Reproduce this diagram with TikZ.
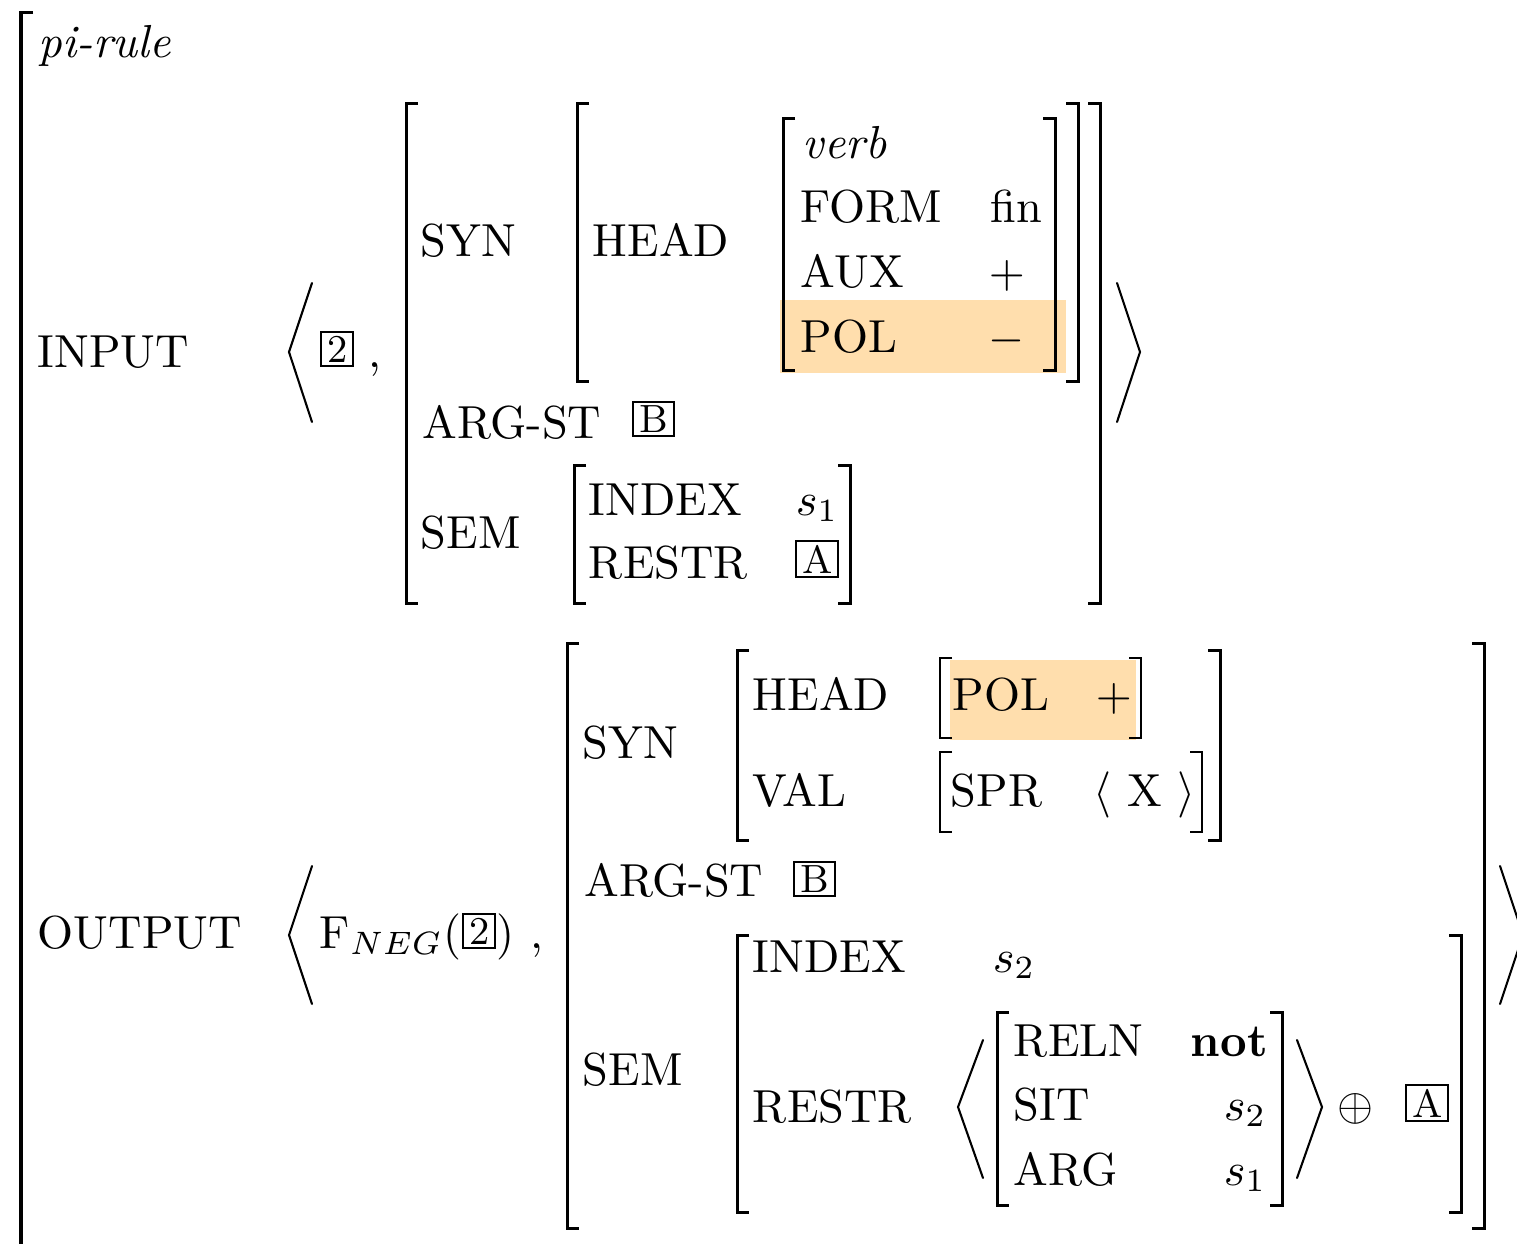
\documentclass[tikz,border=0pt]{standalone}
\usepackage{tikz}
\definecolor{hl}{RGB}{255,222,173}
\newcommand\mylb[4][brk]{\draw[#1] ({#2+12},#3) -- (#2,#3) -- (#2,#4) -- ({#2+12},#4);}
\newcommand\myrb[4][brk]{\draw[#1] ({#2-12},#3) -- (#2,#3) -- (#2,#4) -- ({#2-12},#4);}
\begin{document}
\begin{tikzpicture}[x=0.216pt,y=-0.216pt,
  lbl/.style={anchor=base west, inner sep=0pt, font=\fontsize{10}{12}\selectfont},
  tagbox/.style={draw, line width=0.45pt, inner xsep=1.3pt, inner ysep=0.8pt, anchor=south west, font=\fontsize{8.5}{10}\selectfont},
  brk/.style={line width=0.65pt},
  thinbrk/.style={line width=0.4pt},
  ang/.style={line width=0.45pt, line cap=round, line join=miter}]
\useasboundingbox (0,0) rectangle (1517,1243);
\clip (0,0) rectangle (1517,1243);
% highlights
\fill[hl] (780,300) rectangle (1066,373);
\fill[hl] (950,660) rectangle (1136,740);
% outer bracket
\draw[brk] (33,12) -- (21,12) -- (21,1250);
% ---------- INPUT ----------
\node[lbl] (pirule) at (38,57) {\itshape pi-rule};
\node[lbl] (input) at (37,367) {INPUT};
\draw[ang] (312,283) -- (289,352) -- (312,422);
\node[tagbox] (t2a) at (320,367) {2};
\node[lbl] (c1) at (368,367) {,};
\mylb{406}{103}{603}
\myrb{1100}{103}{603}
\draw[ang] (1117,283) -- (1140,352) -- (1117,422);
\node[lbl] (syn1) at (420,256) {SYN};
\mylb{577}{103}{381}
\myrb{1078}{103}{381}
\node[lbl] (head1) at (592,256) {HEAD};
\mylb{783}{118}{370}
\myrb{1055}{118}{370}
\node[lbl] (verb) at (802,158) {\itshape verb};
\node[lbl] (form) at (800,222) {FORM};
\node[lbl] (fin) at (990,222) {fin};
\node[lbl] (aux) at (800,287) {AUX};
\node[lbl] (auxv) at (988,287) {$+$};
\node[lbl] (pol1) at (800,352) {POL};
\node[lbl] (polv1) at (988,352) {$-$};
\node[lbl] (argst1) at (422,438) {ARG-ST};
\node[tagbox] (tb1) at (632,437) {B};
\node[lbl] (sem1) at (420,548) {SEM};
\mylb{574}{465}{603}
\myrb{850}{465}{603}
\node[lbl] (index1) at (588,515) {INDEX};
\node[lbl] (s1a) at (795,515) {$s_1$};
\node[lbl] (restr1) at (588,578) {RESTR};
\node[tagbox] (ta1) at (795,578) {A};
% ---------- OUTPUT ----------
\node[lbl] (output) at (37,948) {OUTPUT};
\draw[ang] (312,866) -- (289,935) -- (312,1004);
\node[lbl] (fneg) at (319,948) {F$_{NEG}$(};
\node[tagbox] (t2b) at (462,949) {2};
\node[lbl] (fnegc) at (496,948) {)};
\node[lbl] (c2) at (530,948) {,};
\mylb{567}{643}{1228}
\myrb{1484}{643}{1228}
\draw[ang] (1500,866) -- (1523,935) -- (1500,1004);
\node[lbl] (syn2) at (582,758) {SYN};
\mylb{737}{650}{840}
\myrb{1220}{650}{840}
\node[lbl] (head2) at (752,710) {HEAD};
\mylb[thinbrk]{940}{658}{738}
\myrb[thinbrk]{1141}{658}{738}
\node[lbl] (pol2) at (952,710) {POL};
\node[lbl] (polv2) at (1095,710) {$+$};
\node[lbl] (val) at (752,806) {VAL};
\mylb[thinbrk]{940}{752}{832}
\myrb[thinbrk]{1202}{752}{832}
\node[lbl] (spr) at (950,806) {SPR};
\node[lbl] (sprv) at (1093,806) {$\langle$\ X\ $\rangle$};
\node[lbl] (argst2) at (584,896) {ARG-ST};
\node[tagbox] (tb2) at (793,897) {B};
\node[lbl] (sem2) at (582,1085) {SEM};
\mylb{737}{935}{1212}
\myrb{1461}{935}{1212}
\node[lbl] (index2) at (752,972) {INDEX};
\node[lbl] (s2a) at (992,972) {$s_2$};
\node[lbl] (restr2) at (752,1122) {RESTR};
\draw[ang] (983,1040) -- (958,1107) -- (983,1178);
\mylb{997}{1012}{1205}
\myrb{1282}{1012}{1205}
\draw[ang] (1297,1040) -- (1322,1107) -- (1297,1178);
\node[lbl] (reln) at (1013,1056) {RELN};
\node[lbl] (not) at (1190,1056) {\bfseries not};
\node[lbl] (sit) at (1013,1120) {SIT};
\node[lbl] (s2b) at (1223,1120) {$s_2$};
\node[lbl] (arg) at (1013,1185) {ARG};
\node[lbl] (s1b) at (1223,1185) {$s_1$};
\node[lbl] (oplus) at (1337,1120) {$\oplus$};
\node[tagbox] (ta2) at (1405,1122) {A};
\end{tikzpicture}
\end{document}
